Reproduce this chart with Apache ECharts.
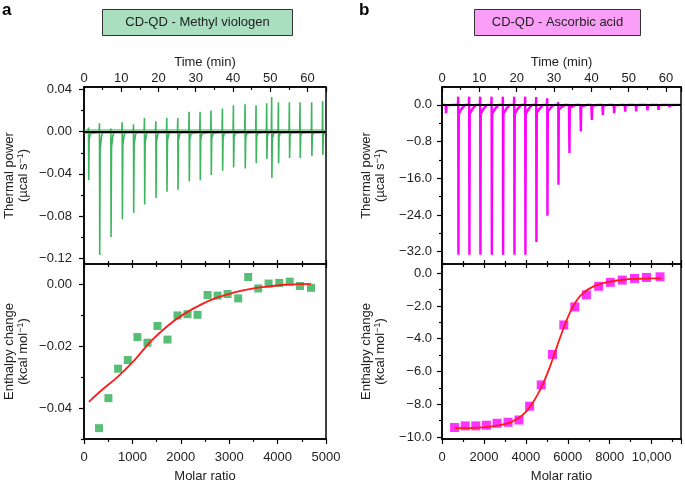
<!DOCTYPE html>
<html><head><meta charset="utf-8">
<script src="https://cdn.jsdelivr.net/npm/echarts@6/dist/echarts.min.js"></script>
<style>html,body{margin:0;padding:0;background:#fff}#c{width:685px;height:484px}</style>
</head><body><div id="c"></div>
<script>
// ---------- Panel a: CD-QD - Methyl viologen ----------
// raw thermogram injections (time in min, up-spike and down-spike in µcal/s)
const injTimeA = [1.24, 4.19, 7.24, 10.28, 13.32, 16.27, 19.32, 22.27, 25.22, 28.26, 31.21, 34.16, 37.21, 40.16, 43.29, 46.24, 49.1, 50.44, 52.24, 55.19, 58.05, 61.18, 64.13];
const injUpA   = [0.004, 0.008, 0.003, 0.009, 0.007, 0.013, 0.010, 0.013, 0.013, 0.019, 0.019, 0.020, 0.022, 0.025, 0.026, 0.025, 0.027, 0.033, 0.028, 0.028, 0.028, 0.028, 0.029];
const injDownA = [-0.046, -0.117, -0.100, -0.083, -0.077, -0.069, -0.063, -0.057, -0.055, -0.047, -0.046, -0.041, -0.037, -0.034, -0.035, -0.030, -0.026, -0.044, -0.030, -0.025, -0.025, -0.023, -0.022];
// integrated heats
const molarA = [310, 504, 704, 904, 1104, 1311, 1518, 1725, 1932, 2139, 2346, 2553, 2760, 2966, 3186, 3393, 3600, 3814, 4034, 4249, 4462, 4690];
const enthA  = [-0.0465, -0.0368, -0.0273, -0.0245, -0.0171, -0.0189, -0.0135, -0.0179, -0.0101, -0.0097, -0.0099, -0.0035, -0.0037, -0.0032, -0.0046, 0.0023, -0.0014, 0.0002, 0.0004, 0.0008, -0.0006, -0.0012];
const fitAx  = [100, 345, 690, 1034, 1379, 1725, 2069, 2414, 2759, 3103, 3448, 3793, 4138, 4483, 4690];
const fitAy  = [-0.0380, -0.0345, -0.0300, -0.0247, -0.0185, -0.0135, -0.0096, -0.0066, -0.0043, -0.0027, -0.0015, -0.0008, -0.0002, 0.0000, 0.0001];

// ---------- Panel b: CD-QD - Ascorbic acid ----------
const injTimeB = [1.07, 4.37, 7.31, 10.26, 13.31, 16.34, 19.37, 22.31, 25.26, 28.21, 31.16, 34.1, 37.16, 40.1, 43.05, 46.08, 49.03, 51.98, 55.0, 57.95, 60.89];
const injUpB   = [0, 1.8, 1.8, 1.8, 1.8, 1.8, 1.8, 1.8, 1.7, 1.45, 0.6, 0, 0, 0, 0, 0, 0, 0, 0, 0, 0];
const injDownB = [-1.8, -32.7, -32.7, -32.7, -32.7, -32.7, -32.7, -32.7, -29.9, -24.2, -17.4, -10.5, -5.8, -3.3, -2.2, -1.8, -1.5, -1.4, -1.2, -1.1, -0.5];
const molarB = [600, 1107, 1614, 2120, 2627, 3150, 3672, 4179, 4733, 5272, 5810, 6333, 6887, 7473, 8027, 8597, 9183, 9753, 10400];
const enthB  = [-9.42, -9.32, -9.32, -9.28, -9.16, -9.10, -8.96, -8.12, -6.82, -4.96, -3.16, -2.06, -1.32, -0.80, -0.56, -0.42, -0.32, -0.26, -0.22];
const fitBx  = [600, 1503, 2295, 3086, 3562, 4037, 4512, 4828, 5145, 5462, 5778, 6095, 6412, 6728, 7203, 7837, 8629, 9420, 10450];
const fitBy  = [-9.46, -9.44, -9.36, -9.18, -8.92, -8.42, -7.52, -6.72, -5.72, -4.56, -3.42, -2.42, -1.68, -1.22, -0.82, -0.56, -0.40, -0.34, -0.30];

// ---------- tick labels ----------
const yTicksA1 = [0.04, 0, -0.04, -0.08, -0.12];
const yLabelsA1 = ['0.04', '0.00', '\u22120.04', '\u22120.08', '\u22120.12'];
const yMinorA1 = [0.02, -0.02, -0.06, -0.10];
const yTicksA2 = [0, -0.02, -0.04];
const yLabelsA2 = ['0.00', '\u22120.02', '\u22120.04'];
const yMinorA2 = [-0.01, -0.03, -0.05];
const yTicksB1 = [0, -8, -16, -24, -32];
const yLabelsB1 = ['0.0', '\u22120.8', '\u221216.0', '\u221224.0', '\u221232.0'];
const yMinorB1 = [-4, -12, -20, -28];
const yTicksB2 = [0, -2, -4, -6, -8, -10];
const yLabelsB2 = ['0.0', '\u22122.0', '\u22124.0', '\u22126.0', '\u22128.0', '\u221210.0'];
const yMinorB2 = [-1, -3, -5, -7, -9];

// ---------- styles ----------
const GREEN = '#3db55e', GREEN_M = '#2fae52', MAG = '#ff00ff', RED = '#ff1a1a', INK = '#222';
const FONT = 'Liberation Sans, Arial, Helvetica, sans-serif';

function buildTrace(times, ups, downs, shape, xmax) {
  const pts = [[0, 0]];
  for (let i = 0; i < times.length; i++) {
    const t = times[i], u = ups[i], d = downs[i];
    pts.push([t - 0.12, 0], [t - 0.03, u], [t + 0.03, d], [t + shape[0], d * shape[1]], [t + shape[2], d * shape[3]], [t + shape[4], 0]);
  }
  pts.push([xmax, 0]);
  return pts.filter(p => p[0] <= xmax);
}
function pairs(xs, ys) { return xs.map((x, i) => [x, ys[i]]); }
function labelFmt(ticks, labels) {
  return v => { const i = ticks.findIndex(t => Math.abs(t - v) < 1e-9); return i >= 0 ? labels[i] : ''; };
}

const lineSt = { show: true, onZero: false, lineStyle: { color: '#000', width: 1.5 } };
const txt = { fontSize: 13, color: INK, fontFamily: FONT };
const nameSt = { fontSize: 13, color: INK, fontFamily: FONT, lineHeight: 14,
  rich: { sup: { fontSize: 9, verticalAlign: 'top', lineHeight: 9, fontFamily: FONT, color: INK } } };

const grids = [
  { left: 84, top: 87, width: 242, height: 177 },
  { left: 84, top: 264, width: 242, height: 177 },
  { left: 442, top: 87, width: 239, height: 177 },
  { left: 442, top: 264, width: 239, height: 178 }
].map(g => Object.assign({ show: true, borderColor: '#000', borderWidth: 1.5, backgroundColor: 'transparent' }, g));

function timeAxis(gi, max) {
  return { type: 'value', gridIndex: gi, position: 'top', min: 0, max: max, interval: 10,
    axisLine: lineSt, axisTick: { show: true, inside: true, length: 5, lineStyle: { color: '#000', width: 1.2 } },
    minorTick: { show: true, splitNumber: 2, length: 3, lineStyle: { color: '#000', width: 1.2 } },
    axisLabel: Object.assign({ margin: 2, showMaxLabel: false }, txt), splitLine: { show: false }, minorSplitLine: { show: false },
    name: 'Time (min)', nameLocation: 'middle', nameGap: 18, nameTextStyle: txt };
}
function molarAxis(gi, max, interval, fmt, showMax) {
  return { type: 'value', gridIndex: gi, position: 'bottom', min: 0, max: max, interval: interval,
    axisLine: lineSt, axisTick: { show: true, inside: false, length: 5, lineStyle: { color: '#000', width: 1.2 } },
    minorTick: { show: true, splitNumber: 2, length: 3, lineStyle: { color: '#000', width: 1.2 } },
    axisLabel: Object.assign({ margin: 12, formatter: fmt, showMaxLabel: showMax }, txt), splitLine: { show: false }, minorSplitLine: { show: false },
    name: 'Molar ratio', nameLocation: 'middle', nameGap: 31, nameTextStyle: txt };
}
function mirrorAxis(gi, max, interval, inside) {
  return { type: 'value', gridIndex: gi, position: 'top', min: 0, max: max, interval: interval,
    axisLine: { show: false, onZero: false }, axisTick: { show: true, inside: inside, length: 4, lineStyle: { color: '#000', width: 1.2 } },
    minorTick: { show: true, splitNumber: 2, length: 3, lineStyle: { color: '#000', width: 1.2 } },
    axisLabel: { show: false }, splitLine: { show: false }, minorSplitLine: { show: false } };
}
function yMajor(gi, min, max, ticks, labels, margin, name, gap) {
  return { type: 'value', gridIndex: gi, position: 'left', min: min, max: max,
    axisLine: lineSt, axisTick: { show: true, inside: false, length: 5, customValues: ticks, lineStyle: { color: '#000', width: 1.2 } },
    axisLabel: Object.assign({ margin: margin, customValues: ticks, formatter: labelFmt(ticks, labels) }, txt),
    splitLine: { show: false }, name: name, nameLocation: 'middle', nameRotate: 90, nameGap: gap, nameTextStyle: nameSt };
}
function yMinor(gi, min, max, ticks) {
  return { type: 'value', gridIndex: gi, position: 'left', min: min, max: max,
    axisLine: { show: false, onZero: false }, axisTick: { show: true, inside: false, length: 3, customValues: ticks, lineStyle: { color: '#000', width: 1.2 } },
    axisLabel: { show: false }, splitLine: { show: false } };
}

const xAxes = [
  timeAxis(0, 65),                                         // 0
  molarAxis(1, 5000, 1000, v => String(v), true),          // 1
  mirrorAxis(1, 5000, 1000, true),                         // 2
  mirrorAxis(1, 5000, 1000, false),                        // 3
  timeAxis(2, 64),                                         // 4
  molarAxis(3, 11400, 2000, v => v >= 10000 ? '10,000' : String(v), false), // 5
  mirrorAxis(3, 11400, 2000, true),                        // 6
  mirrorAxis(3, 11400, 2000, false)                        // 7
];
const TP = 'Thermal power\n(\u00b5cal s{sup|\u22121})';
const EC = 'Enthalpy change\n(kcal mol{sup|\u22121})';
const yAxes = [
  yMajor(0, -0.1255, 0.0424, yTicksA1, yLabelsA1, 12, TP, 54),
  yMinor(0, -0.1255, 0.0424, yMinorA1),
  yMajor(1, -0.05, 0.0065, yTicksA2, yLabelsA2, 12, EC, 54),
  yMinor(1, -0.05, 0.0065, yMinorA2),
  yMajor(2, -34.7, 3.9, yTicksB1, yLabelsB1, 10, TP, 55),
  yMinor(2, -34.7, 3.9, yMinorB1),
  yMajor(3, -10.12, 0.56, yTicksB2, yLabelsB2, 10, EC, 55),
  yMinor(3, -10.12, 0.56, yMinorB2)
];

const baseline = (extra) => ({ silent: true, symbol: 'none', label: { show: false }, animation: false,
  data: extra.concat([{ yAxis: 0, lineStyle: { color: '#000', width: 2, type: 'solid' } }]) });

const option = {
  animation: false,
  backgroundColor: '#fff',
  grid: grids,
  xAxis: xAxes,
  yAxis: yAxes,
  series: [
    { type: 'line', xAxisIndex: 0, yAxisIndex: 0, showSymbol: false, symbol: 'none',
      data: buildTrace(injTimeA, injUpA, injDownA, [0.15, 0.15, 0.5, 0.04, 0.9], 65),
      lineStyle: { color: GREEN, width: 1.6 }, z: 2,
      markLine: baseline([{ yAxis: 0, lineStyle: { color: GREEN, width: 5, opacity: 0.55, type: 'solid' } }]) },
    { type: 'scatter', xAxisIndex: 1, yAxisIndex: 2, symbol: 'rect', symbolSize: 8,
      data: pairs(molarA, enthA), itemStyle: { color: GREEN_M }, z: 2 },
    { type: 'line', xAxisIndex: 1, yAxisIndex: 2, showSymbol: false, symbol: 'none', smooth: 0.4,
      data: pairs(fitAx, fitAy), lineStyle: { color: RED, width: 1.8 }, z: 3 },
    { type: 'line', xAxisIndex: 4, yAxisIndex: 4, showSymbol: false, symbol: 'none',
      data: buildTrace(injTimeB, injUpB, injDownB, [0.12, 0.06, 0.9, 0.025, 1.8], 64),
      lineStyle: { color: MAG, width: 2.4 }, z: 2,
      markLine: baseline([]) },
    { type: 'scatter', xAxisIndex: 5, yAxisIndex: 6, symbol: 'rect', symbolSize: 9,
      data: pairs(molarB, enthB), itemStyle: { color: MAG }, z: 2 },
    { type: 'line', xAxisIndex: 5, yAxisIndex: 6, showSymbol: false, symbol: 'none', smooth: 0.4,
      data: pairs(fitBx, fitBy), lineStyle: { color: RED, width: 1.8 }, z: 3 }
  ],
  graphic: [
    { type: 'text', left: 2, top: 2, style: { text: 'a', font: 'bold 17px ' + FONT, fill: '#000' } },
    { type: 'text', left: 359, top: 2, style: { text: 'b', font: 'bold 17px ' + FONT, fill: '#000' } },
    { type: 'group', left: 102, top: 9, children: [
      { type: 'rect', shape: { x: 0, y: 0, width: 190, height: 26 }, style: { fill: '#a9dfbf', stroke: '#333', lineWidth: 1 } },
      { type: 'text', x: 95, y: 13, style: { text: 'CD-QD - Methyl viologen', font: '13px ' + FONT, fill: INK, align: 'center', verticalAlign: 'middle' } }
    ] },
    { type: 'group', left: 474, top: 9, children: [
      { type: 'rect', shape: { x: 0, y: 0, width: 166, height: 26 }, style: { fill: '#f99ff7', stroke: '#333', lineWidth: 1 } },
      { type: 'text', x: 83, y: 13, style: { text: 'CD-QD - Ascorbic acid', font: '13px ' + FONT, fill: INK, align: 'center', verticalAlign: 'middle' } }
    ] }
  ]
};

const chart = echarts.init(document.getElementById('c'), null, { renderer: 'canvas' });
chart.setOption(option);
</script></body></html>
